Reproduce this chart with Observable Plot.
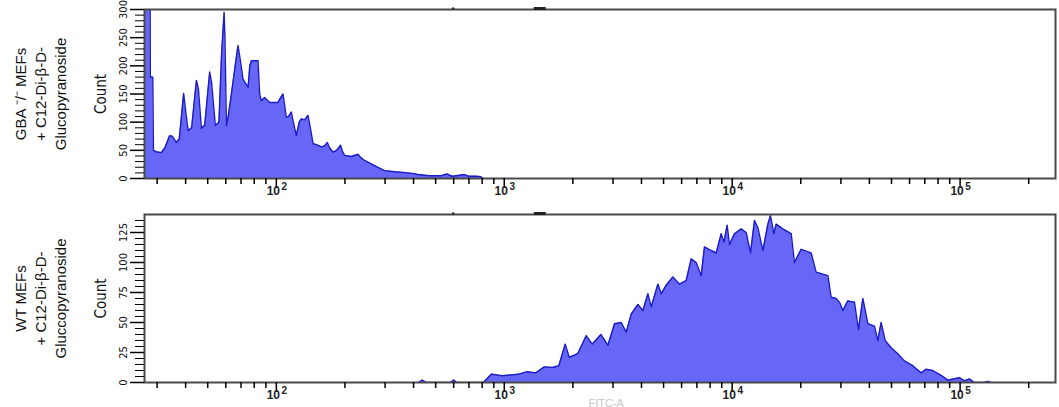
<!DOCTYPE html>
<html><head><meta charset="utf-8">
<script src="https://cdn.jsdelivr.net/npm/d3@7"></script>
<script src="https://cdn.jsdelivr.net/npm/@observablehq/plot@0.6"></script>
<style>
html,body{margin:0;padding:0;background:#fff;overflow:hidden;}
#chart{width:1059px;height:407px;position:relative;}
#chart svg{display:block}
</style></head><body><div id="chart"></div>
<script>
// FITC-A value, count
const gbaHistogram = [[26.4,420],[27.9,420],[28.0,180],[28.7,180],[28.9,50],[30,47],[31.3,46],[32.5,55],[34,76],[35,75],[36.4,64],[37.5,70],[39.2,151],[40,120],[41,85],[42.5,90],[44.6,174],[45.5,160],[46.9,89],[48.5,95],[51,189],[52,170],[54,94],[56,100],[57.5,220],[59,295],[59.5,250],[60.4,94],[61.5,110],[63.5,150],[66,200],[67.9,236],[69.5,210],[71.4,177],[73,170],[75.2,162],[76.5,200],[77.7,209],[83.1,209],[84.5,150],[85.9,138],[88.9,144],[93.5,135],[101.7,135],[105,145],[107,150],[110.6,109],[113,110],[116.4,118],[118,105],[122.4,76],[126,100],[128.7,106],[133,104],[137.7,112],[141,90],[144.9,62],[150,60],[157.6,56],[163,58],[167.4,64],[171,55],[177.3,47],[184,50],[191.4,59],[195,48],[199.3,41],[213.3,39],[228.2,43],[235,37],[243.9,32],[255,28],[269.9,23],[285,18],[298.5,14],[330.3,12],[378.1,10],[395,9],[418.2,7],[468.8,5],[529.3,5],[560,8],[590,4],[615.9,5],[667.8,7],[700,4],[753.5,4],[790,3],[809,0]];
const wtHistogram = [[420,0],[437,2],[455,0],[580,0],[600,2],[620,0],[809,0],[880,7],[979,5.6],[1160,7],[1262,9],[1375,8],[1498,13],[1629,12.5],[1736,14],[1851,32],[1928,21],[2101,24],[2289,39],[2432,32],[2656,40],[2850,31],[3047,49],[3260,50],[3429,42],[3606,57],[3859,65],[4058,60],[4268,74],[4412,63],[4722,82],[4882,74],[5134,81],[5495,88],[5873,82],[6284,85],[6610,103],[6952,100],[7311,89],[7558,113],[8091,110],[8510,108],[8950,124],[9197,117],[9506,131],[9731,115],[10234,124],[10952,128],[11519,125],[12031,108],[12527,135],[12964,129],[13634,110],[14341,132],[14723,139],[15237,124],[15596,132],[16689,128],[18150,124],[18762,100],[20077,111],[22207,108],[23355,92],[26289,89],[27182,71],[28587,70],[29556,67],[30587,60],[32166,68],[34391,67],[35806,44],[37434,70],[39378,49],[42086,47],[43551,35],[45030,50],[46893,35],[49822,29],[53305,24],[56980,18],[62010,14],[67440,8],[70940,11],[75920,10],[82550,6],[88340,2],[99290,4],[104450,1.4],[109850,3],[115530,0],[128000,0],[132290,1],[136000,0]];

const xDomain = [26.4, 262144];
const xMajorTicks = [100, 1000, 10000, 100000];
const xMinorTicks = [30,40,50,60,70,80,90,200,300,400,500,600,700,800,900,2000,3000,4000,5000,6000,7000,8000,9000,20000,30000,40000,50000,60000,70000,80000,90000,200000];
const xTickBase = "10";
const xTickExponents = ["2","3","4","5"];

const gbaYMax = 300;
const gbaYMajor = [0,50,100,150,200,250,300];
const gbaYMinor = [10,20,30,40,60,70,80,90,110,120,130,140,160,170,180,190,210,220,230,240,260,270,280,290];
const wtYMax = 140;
const wtYMajor = [0,25,50,75,100,125];
const wtYMinor = [5,10,15,20,30,35,40,45,55,60,65,70,80,85,90,95,105,110,115,120,130,135];

const gbaLabel = "GBA ⁻/⁻ MEFs\n+ C12-Di-β-D-\nGlucopyranoside";
const wtLabel = "WT MEFs\n+ C12-Di-β-D-\nGluccopyranoside";
const xAxisTitle = "FITC-A";
const gateDot = [597];
const gateDash = [[1354, 1528]];

const narrow = "'Liberation Sans Narrow','DejaVu Sans Condensed','Arial Narrow',sans-serif";
const sans = "'Liberation Sans',Arial,sans-serif";

function panel({data, yMax, yMajor, yMinor, label, height, marginTop, marginBottom, extra = []}) {
  return Plot.plot({
    width: 1059, height, marginLeft: 144, marginRight: 4, marginTop, marginBottom,
    style: {fontFamily: sans, background: "#fff", overflow: "visible"},
    x: {type: "log", domain: xDomain},
    y: {domain: [0, yMax]},
    marks: [
      Plot.areaY(data, {x: d => d[0], y: d => d[1], fill: "#6666f7", clip: true}),
      Plot.lineY(data, {x: d => d[0], y: d => d[1], stroke: "#1c1cc4", strokeWidth: 1.4, clip: true}),
      Plot.frame({stroke: "#4a4a4a", strokeWidth: 2}),
      Plot.ruleY([yMax], {x1: gateDash[0][0], x2: gateDash[0][1], stroke: "#222", strokeWidth: 3, dy: -1}),
      Plot.dot(gateDot, {x: d => d, y: yMax, r: 1.2, fill: "#222", stroke: null, dy: -1}),
      Plot.axisX({ticks: xMinorTicks, tickSize: 6, tickFormat: () => "", label: null, strokeWidth: 1.5}),
      Plot.axisX({ticks: xMajorTicks, tickSize: 10, tickFormat: () => "", label: null, strokeWidth: 1.5}),
      Plot.text(xMajorTicks, {x: d => d, frameAnchor: "bottom", dy: 8, dx: -3, lineAnchor: "top", text: () => xTickBase, fontSize: 12, fontWeight: "bold", fill: "#222"}),
      Plot.text(xMajorTicks, {x: d => d, frameAnchor: "bottom", dy: 4, dx: 8, lineAnchor: "top", text: (d, i) => xTickExponents[i], fontSize: 10, fontWeight: "bold", fill: "#222"}),
      Plot.axisY({ticks: yMinor, tickSize: 9, tickFormat: () => "", label: null}),
      Plot.axisY({ticks: yMajor, tickSize: 14, tickFormat: () => "", label: null, strokeWidth: 1.5}),
      Plot.text(yMajor, {y: d => d, frameAnchor: "left", dx: -21, rotate: -90, textAnchor: "middle", text: d => String(d), fontSize: 11, fontFamily: narrow, fill: "#111"}),
      Plot.text(["Count"], {frameAnchor: "left", dx: -43, rotate: -90, textAnchor: "middle", fontSize: 15, fontFamily: narrow, fill: "#111"}),
      Plot.text([label], {frameAnchor: "left", dx: -105, rotate: -90, textAnchor: "middle", lineAnchor: "middle", lineHeight: 1.35, fontSize: 15, fill: "#111"}),
      ...extra
    ]
  });
}

const chart = document.getElementById("chart");
chart.appendChild(panel({data: gbaHistogram, yMax: gbaYMax, yMajor: gbaYMajor, yMinor: gbaYMinor, label: gbaLabel, height: 200, marginTop: 9, marginBottom: 22}));
chart.appendChild(panel({data: wtHistogram, yMax: wtYMax, yMajor: wtYMajor, yMinor: wtYMinor, label: wtLabel, height: 207, marginTop: 14, marginBottom: 25,
  extra: [Plot.text([xAxisTitle], {frameAnchor: "bottom", x: 2800, dy: 24, lineAnchor: "bottom", fontSize: 11, fill: "#c8c8c8"})]}));
</script></body></html>
